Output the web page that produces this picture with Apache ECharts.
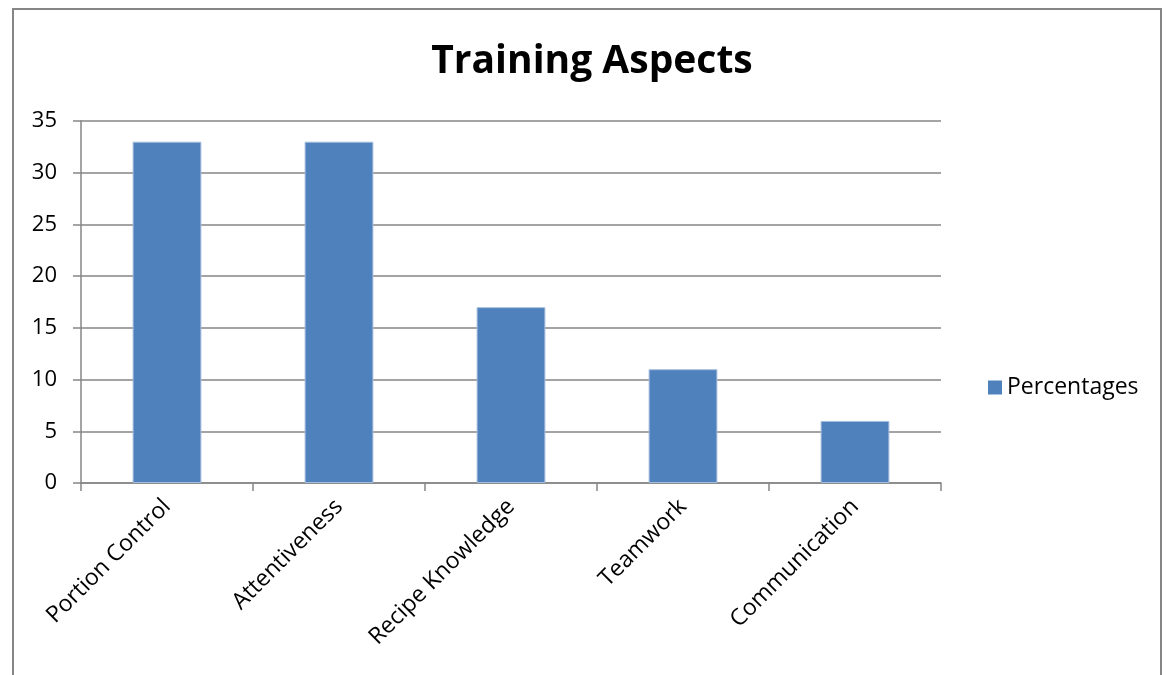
<!DOCTYPE html>
<html>
<head>
<meta charset="utf-8">
<script src="https://cdn.jsdelivr.net/npm/echarts@6/dist/echarts.min.js"></script>
<style>
  html, body { margin: 0; padding: 0; background: #fff; }
  #frame { position: absolute; left: 12px; top: 8px; width: 1150px; height: 700px; border: 2px solid #868686; box-sizing: border-box; }
  #chart { position: absolute; left: 0; top: 0; width: 1169px; height: 675px; }
</style>
</head>
<body>
<div id="frame"></div>
<div id="chart"></div>
<script>
// Share of staff naming each training aspect
const categories = ['Portion Control', 'Attentiveness', 'Recipe Knowledge', 'Teamwork', 'Communication'];
const percentages = [33, 33, 17, 11, 6];
const seriesName = 'Percentages';
const titleText = 'Training Aspects';

const font = 'Open Sans, Noto Sans, sans-serif';
const gridGray = '#868686';

const chart = echarts.init(document.getElementById('chart'), null, { renderer: 'canvas' });
chart.setOption({
  animation: false,
  backgroundColor: 'transparent',
  title: {
    text: titleText,
    left: 587, top: 37, textAlign: 'center',
    textStyle: { fontFamily: font, fontWeight: 'bold', fontSize: 39, color: '#000' }
  },
  legend: {
    data: [seriesName],
    left: 983, top: 371,
    itemWidth: 14, itemHeight: 14, itemGap: 8,
    icon: 'rect',
    itemStyle: { borderWidth: 0 },
    textStyle: { fontFamily: font, fontSize: 23, color: '#000' }
  },
  grid: { left: 81, right: 228, top: 121, bottom: 192, containLabel: false },
  xAxis: {
    type: 'category',
    data: categories,
    axisLine: { lineStyle: { color: gridGray, width: 1.5 } },
    axisTick: { show: true, length: 8, alignWithLabel: false, lineStyle: { color: gridGray, width: 1.5 } },
    axisLabel: { rotate: 45, margin: 20, fontFamily: font, fontSize: 23, color: '#000', interval: 0 }
  },
  yAxis: {
    type: 'value',
    min: 0, max: 35, interval: 5,
    axisLine: { show: true, lineStyle: { color: gridGray, width: 1.5 } },
    axisTick: { show: true, length: 8, lineStyle: { color: gridGray, width: 1.5 } },
    splitLine: { lineStyle: { color: gridGray, width: 1.5 } },
    axisLabel: { margin: 24, fontFamily: font, fontSize: 22, color: '#000' }
  },
  series: [{
    name: seriesName,
    type: 'bar',
    data: percentages,
    barWidth: '40%',
    itemStyle: { color: '#4F81BD', borderColor: '#A6BEDC', borderWidth: 1 }
  }]
});
</script>
</body>
</html>
